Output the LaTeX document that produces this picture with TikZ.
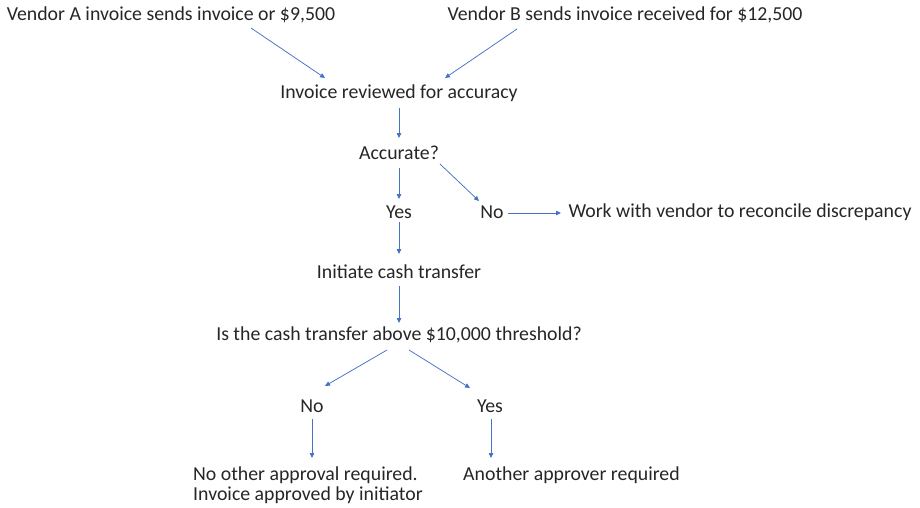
\documentclass[tikz,border=0pt]{standalone}
\usepackage{fontspec}
\setmainfont{Carlito}
\usetikzlibrary{arrows.meta}
\definecolor{txt}{HTML}{262626}
\definecolor{flow}{HTML}{4472C4}
\tikzset{
  lbl/.style={inner sep=0pt, text=txt, font=\fontsize{19.8}{20}\selectfont},
  conn/.style={draw=flow, line width=0.75pt, -{Triangle[length=5pt,width=4.5pt]}}
}
\begin{document}
\begin{tikzpicture}[x=1pt,y=-1pt]
\useasboundingbox (0,0) rectangle (920,507);

% statements and decisions
\node[lbl] (vA)   at (171,15)  {Vendor A invoice sends invoice or \$9,500};
\node[lbl] (vB)   at (625,15)  {Vendor B sends invoice received for \$12,500};
\node[lbl] (rev)  at (399,93)  {Invoice reviewed for accuracy};
\node[lbl] (acc)  at (399,153) {Accurate?};
\node[lbl] (yes1) at (399,212) {Yes};
\node[lbl] (no1)  at (492,212) {No};
\node[lbl] (work) at (740,212) {Work with vendor to reconcile discrepancy};
\node[lbl] (init) at (399,272) {Initiate cash transfer};
\node[lbl] (thr)  at (399,335) {Is the cash transfer above \$10,000 threshold?};
\node[lbl] (no2)  at (312,406) {No};
\node[lbl] (yes2) at (490,406) {Yes};
\node[lbl, align=left, anchor=west] (self) at (193,485)
  {No other approval required.\\Invoice approved by initiator};
\node[lbl, anchor=west] (other) at (463,475) {Another approver required};

% connector end points
\coordinate (vAo)  at (251,28);   \coordinate (revA) at (325,78);
\coordinate (vBo)  at (517,29);   \coordinate (revB) at (445,78);
\coordinate (revo) at (399,108);  \coordinate (acci) at (399,138);
\coordinate (accY) at (399,168);  \coordinate (yesi) at (399,199);
\coordinate (accN) at (440,164);  \coordinate (noi)  at (479,201);
\coordinate (noo)  at (508,213);  \coordinate (wrki) at (561,213);
\coordinate (yeso) at (399,222);  \coordinate (initi) at (399,254);
\coordinate (inito) at (399,286); \coordinate (thri) at (399,323);
\coordinate (thrL) at (387,350);  \coordinate (no2i) at (325,386);
\coordinate (thrR) at (409,350);  \coordinate (yes2i) at (470,388);
\coordinate (no2o) at (312,419);  \coordinate (selfi) at (312,458);
\coordinate (yes2o) at (491,419); \coordinate (othi) at (491,458);

% connectors
\draw[conn] (vAo) -- (revA);
\draw[conn] (vBo) -- (revB);
\draw[conn] (revo) -- (acci);
\draw[conn] (accY) -- (yesi);
\draw[conn] (accN) -- (noi);
\draw[conn] (noo) -- (wrki);
\draw[conn] (yeso) -- (initi);
\draw[conn] (inito) -- (thri);
\draw[conn] (thrL) -- (no2i);
\draw[conn] (thrR) -- (yes2i);
\draw[conn] (no2o) -- (selfi);
\draw[conn] (yes2o) -- (othi);
\end{tikzpicture}
\end{document}
